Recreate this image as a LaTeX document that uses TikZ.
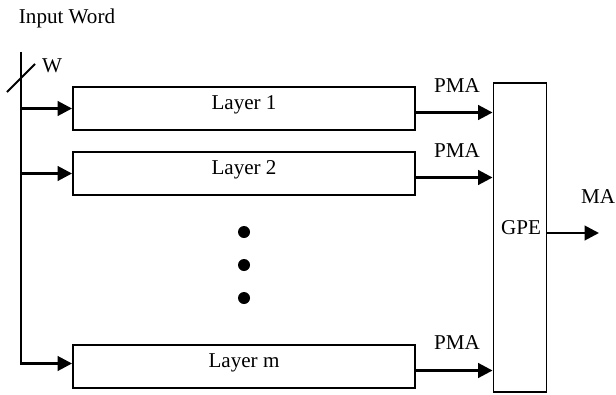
\documentclass[tikz,border=0pt]{standalone}
\usepackage{fontspec}
\setmainfont{Liberation Serif}
\usepackage{tikz}
\usetikzlibrary{arrows.meta,positioning,calc}

\tikzset{
    layerbox/.style={draw, line width=1.3pt, rectangle, minimum width=8.55cm, minimum height=1.075cm, inner sep=0pt, text depth=0.32cm},
    sig/.style={-{Triangle[length=0.36cm, width=0.36cm]}, line width=2pt},
    lbl/.style={font=\fontsize{15}{17}\selectfont}
}

\begin{document}
\begin{tikzpicture}[x=0.025cm, y=-0.025cm, lbl]
    \useasboundingbox (0,0) rectangle (616,394);

    % Input word bus
    \node[lbl] (inword) at (67,18) {Input Word};
    \coordinate (bustop) at (21,52);
    \coordinate (slasha) at (7,92);
    \coordinate (slashb) at (35,64);
    \node[lbl] (wbits) at (52,66) {W};
    \draw[line width=1.5pt] (slasha) -- (slashb);

    % Layers
    \node[layerbox] (l1) at (244,108.5) {Layer 1};
    \node[layerbox] (l2) at (244,173.5) {Layer 2};
    \node[layerbox] (lm) at (244,366.5) {Layer m};

    % Dots between layers
    \fill (244,232) circle (0.15cm) coordinate (dota);
    \fill (244,265) circle (0.15cm) coordinate (dotb);
    \fill (244,298) circle (0.15cm) coordinate (dotc);

    % GPE
    \node[draw, line width=1.3pt, rectangle, minimum width=1.325cm, minimum height=7.725cm, inner sep=0pt] (gpe) at (520,237.5) {};
    \node[lbl] (gpetxt) at (521,228) {GPE};

    % Inputs to the layers
    \draw[sig] (bustop) |- ([yshift=0.075cm]lm.west);
    \draw[sig] (bustop |- l1.west) -- (l1.west);
    \draw[sig] (bustop |- l2.west) -- (l2.west);

    % Partial outputs to GPE
    \draw[sig] ([yshift=-0.1cm]l1.east) -- ([yshift=-0.1cm]l1.east -| gpe.west);
    \draw[sig] ([yshift=-0.1cm]l2.east) -- ([yshift=-0.1cm]l2.east -| gpe.west);
    \draw[sig] ([yshift=-0.1cm]lm.east) -- ([yshift=-0.1cm]lm.east -| gpe.west);
    \node[lbl] (pma1) at (457,86) {PMA};
    \node[lbl] (pma2) at (457,151) {PMA};
    \node[lbl] (pmam) at (457,343) {PMA};

    % Final output
    \coordinate (maend) at (599,233);
    \draw[sig] (gpe.east |- maend) -- (maend);
    \node[lbl] (ma) at (598,197) {MA};
\end{tikzpicture}
\end{document}
